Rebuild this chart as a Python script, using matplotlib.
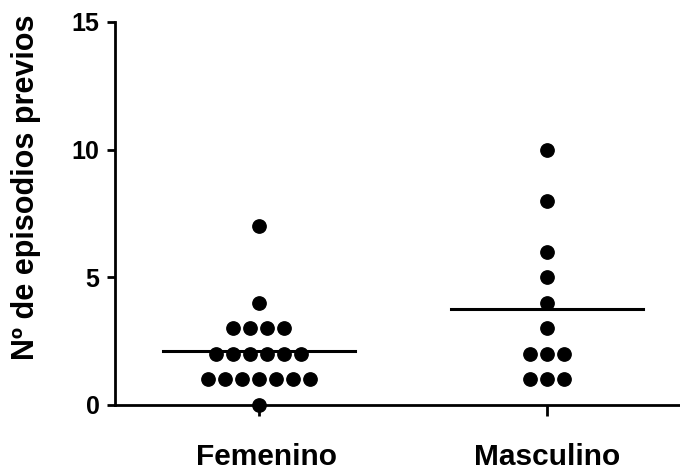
import matplotlib
matplotlib.use("Agg")
import matplotlib.pyplot as plt
import matplotlib.transforms as mtransforms
import numpy as np

plt.rcParams['font.family'] = ['Liberation Sans', 'DejaVu Sans']
plt.rcParams['font.weight'] = 'bold'

categories = ["Femenino", "Masculino"]
femenino = [0, 1, 1, 1, 1, 1, 1, 1, 2, 2, 2, 2, 2, 2, 3, 3, 3, 3, 4, 7]
masculino = [1, 1, 1, 2, 2, 2, 3, 4, 5, 6, 8, 10]
groups = [femenino, masculino]

ylabel = "Nº de episodios previos"
yticks = [0, 5, 10, 15]


def swarm_x(values, center, step=0.059):
    # spread equal values side by side, centred on the category
    values = np.asarray(values)
    xs = np.zeros(len(values), dtype=float)
    for v in np.unique(values):
        idx = np.where(values == v)[0]
        n = len(idx)
        xs[idx] = center + (np.arange(n) - (n - 1) / 2) * step
    return xs


fig = plt.figure(figsize=(6.8, 4.7), dpi=100)
ax = fig.add_axes([0.169, 0.1383, 0.831, 0.8149])

for i, vals in enumerate(groups):
    xs = swarm_x(vals, i)
    ax.plot(xs, vals, 'o', color='black', markersize=9.6, clip_on=False, zorder=3)
    m = np.mean(vals)
    ax.plot([i - 0.333, i + 0.333], [m, m], color='black', lw=2.2, zorder=2)

ax.set_xlim(-0.5, 1.462)
ax.set_ylim(0, 15)
ax.set_yticks(yticks)
ax.set_xticks(range(len(categories)))
ax.set_xticklabels(categories, fontsize=21.5, fontweight='bold')
ax.tick_params(axis='y', direction='out', length=6, width=2, labelsize=18, pad=5)
ax.tick_params(axis='x', direction='out', length=8, width=2, pad=19.5)
for lab in ax.get_yticklabels():
    lab.set_fontweight('bold')

# the first category label sits a little right of its tick in the original
fem_lab = ax.get_xticklabels()[0]
fem_lab.set_transform(fem_lab.get_transform() +
                      mtransforms.ScaledTranslation(0.08, 0, fig.dpi_scale_trans))

ax.set_ylabel(ylabel, fontsize=22, fontweight='bold')
ax.yaxis.set_label_coords(-0.131, 0.568)

ax.spines['top'].set_visible(False)
ax.spines['right'].set_visible(False)
ax.spines['left'].set_linewidth(2)
ax.spines['bottom'].set_linewidth(2)

fig.savefig("out.png", dpi=100)
